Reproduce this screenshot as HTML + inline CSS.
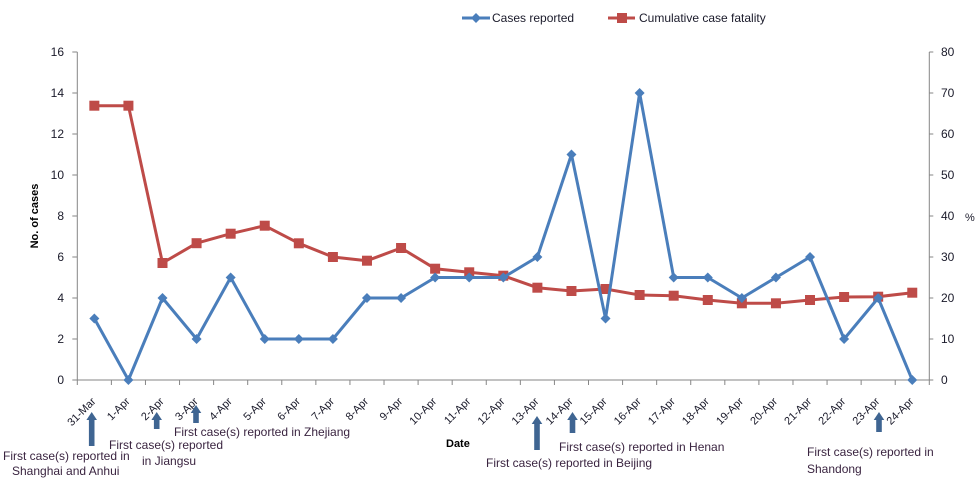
<!DOCTYPE html>
<html>
<head>
<meta charset="utf-8">
<style>
html,body{margin:0;padding:0;background:#fff;}
svg{display:block;}
text{font-family:"Liberation Sans",Arial,sans-serif;}
</style>
</head>
<body>
<svg id="c" width="979" height="481" viewBox="0 0 979 481" xmlns="http://www.w3.org/2000/svg">
<rect width="979" height="481" fill="#fff"/>
<g id="axes" stroke="#868686" stroke-width="1" fill="none"></g>
<g id="labels" font-size="11" fill="#1a1a2a"></g>
<g id="series"></g>
<!-- Legend -->
<line x1="462" y1="18" x2="490" y2="18" stroke="#4a7ebb" stroke-width="3"/>
<polygon points="476,13 481,18 476,23 471,18" fill="#4a7ebb"/>
<text x="492" y="22" font-size="12" fill="#1a1a2a">Cases reported</text>
<line x1="608" y1="18" x2="635" y2="18" stroke="#be4b48" stroke-width="3"/>
<rect x="617" y="13" width="10" height="10" fill="#be4b48"/>
<text x="639" y="22" font-size="12" fill="#1a1a2a">Cumulative case fatality</text>
<!-- Axis titles -->
<text transform="translate(38,216) rotate(-90)" text-anchor="middle" font-size="11" font-weight="bold" fill="#000">No. of cases</text>
<text x="965" y="221" font-size="11" fill="#1a1a2a">%</text>
<text x="446" y="447" font-size="11" font-weight="bold" fill="#000">Date</text>
<!-- Arrows -->
<g fill="#3f6592">
<polygon points="91.7,412 97,420 94.5,420 94.5,446 88.9,446 88.9,420 86.4,420"/>
<polygon points="156.7,412 162,420 159.5,420 159.5,429 153.9,429 153.9,420 151.4,420"/>
<polygon points="196,405 201.3,413 198.8,413 198.8,423 193.2,423 193.2,413 190.7,413"/>
<polygon points="537,416 542.3,424 539.8,424 539.8,450 534.2,450 534.2,424 531.7,424"/>
<polygon points="572.5,412 577.8,420 575.3,420 575.3,433 569.7,433 569.7,420 567.2,420"/>
<polygon points="879,412 884.3,420 881.8,420 881.8,432 876.2,432 876.2,420 873.7,420"/>
</g>
<!-- Annotations -->
<g font-size="12" fill="#3a2440">
<text x="3" y="460">First case(s) reported in</text>
<text x="12" y="475">Shanghai and  Anhui</text>
<text x="109" y="449">First case(s) reported</text>
<text x="142" y="465">in Jiangsu</text>
<text x="174" y="436">First case(s) reported in Zhejiang</text>
<text x="486" y="467">First case(s) reported in Beijing</text>
<text x="559" y="451">First case(s) reported in Henan</text>
<text x="807" y="456">First case(s) reported in</text>
<text x="807" y="473">Shandong</text>
</g>
</svg>
<script>
(function(){
var NS="http://www.w3.org/2000/svg";
function el(t,a,p){var e=document.createElementNS(NS,t);for(var k in a)e.setAttribute(k,a[k]);p.appendChild(e);return e;}
var axes=document.getElementById('axes'),labels=document.getElementById('labels'),series=document.getElementById('series');
var L=77.3,R=929.3,T=52,B=380,n=25,cw=(R-L)/n;
el('line',{x1:L,y1:T,x2:L,y2:B},axes);
el('line',{x1:R,y1:T,x2:R,y2:B},axes);
el('line',{x1:L,y1:B,x2:R,y2:B},axes);
for(var i=0;i<=8;i++){
  var y=B-i*(B-T)/8;
  el('line',{x1:L-5,y1:y,x2:L,y2:y},axes);
  el('line',{x1:R,y1:y,x2:R+4,y2:y},axes);
  var t=el('text',{x:64,y:y+4,'text-anchor':'end','font-size':12},labels);t.textContent=String(i*2);
  var t2=el('text',{x:941,y:y+4,'font-size':12},labels);t2.textContent=String(i*10);
}
for(var k=0;k<=n;k++){var x=L+k*cw;el('line',{x1:x,y1:B,x2:x,y2:B+5},axes);}
var cats=['31-Mar'];for(var d=1;d<=24;d++)cats.push(d+'-Apr');
for(var i=0;i<n;i++){
  var cx=L+cw*(i+0.5),ax=cx+2,ay=402;
  var t=el('text',{x:ax,y:ay,'text-anchor':'end',transform:'rotate(-45 '+ax+' '+ay+')'},labels);
  t.textContent=cats[i];
}
var cases=[3,0,4,2,5,2,2,2,4,4,5,5,5,6,11,3,14,5,5,4,5,6,2,4,0];
var fy=[105.7,105.7,263,243.2,233.7,225.7,243.3,257,260.7,248,268.7,272.3,275.7,287.7,291,289,295,295.7,300,303.3,303.3,300,297,296.7,292.7];
var pr='',pb='';
for(var i=0;i<n;i++){var cx=L+cw*(i+0.5);pr+=(i?' ':'')+cx+','+fy[i];pb+=(i?' ':'')+cx+','+(B-cases[i]*(B-T)/16);}
el('polyline',{points:pr,fill:'none',stroke:'#be4b48','stroke-width':3,'stroke-linejoin':'round'},series);
for(var i=0;i<n;i++){var cx=L+cw*(i+0.5);el('rect',{x:cx-5,y:fy[i]-5,width:10,height:10,fill:'#be4b48'},series);}
el('polyline',{points:pb,fill:'none',stroke:'#4a7ebb','stroke-width':3,'stroke-linejoin':'round'},series);
for(var i=0;i<n;i++){var cx=L+cw*(i+0.5),y=B-cases[i]*(B-T)/16;
  el('polygon',{points:cx+','+(y-5)+' '+(cx+5)+','+y+' '+cx+','+(y+5)+' '+(cx-5)+','+y,fill:'#4a7ebb'},series);}
})();
</script>
</body>
</html>
